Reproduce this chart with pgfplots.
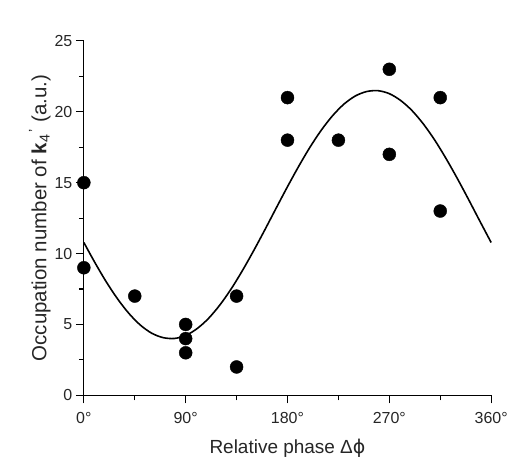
\documentclass[border=0pt]{standalone}
\usepackage{pgfplots}
\pgfplotsset{compat=1.18}
\usepackage{fontspec}
\setmainfont{Liberation Sans}
\newfontfamily\dejavu{DejaVu Sans}

\begin{document}
\begin{tikzpicture}
\path (-84pt,-70pt) rectangle (427pt,396pt);
\begin{axis}[
    at={(0,0)}, anchor=south west,
    width=408pt, height=355pt, scale only axis,
    axis x line*=bottom, axis y line*=left,
    axis line style={line width=1.1pt},
    xmin=0, xmax=360, ymin=0, ymax=25,
    xtick={0,90,180,270,360},
    xticklabels={0°,90°,180°,270°,360°},
    ytick={0,5,10,15,20,25},
    minor tick num=1,
    tick align=outside,
    major tick length=8pt, minor tick length=5pt,
    tick style={line width=1.1pt, black},
    ticklabel style={font=\fontsize{16}{16}\selectfont, text=black!85},
    xticklabel style={yshift=-6pt},
    /pgf/number format/assume math mode=true,
    xlabel={Relative phase Δ{\dejavu ϕ}},
    ylabel={Occupation number of \textbf{k}\textsubscript{4}\textsuperscript{\,'} (a.u.)},
    xlabel style={font=\fontsize{19}{19}\selectfont, text=black!85,
        at={(axis description cs:0.5,-0.15)}, anchor=center},
    ylabel style={font=\fontsize{20.5}{20.5}\selectfont, text=black!85,
        at={(axis description cs:-0.108,0.5)}, anchor=center},
    clip=false,
]
\addplot[black, line width=1.6pt, smooth] coordinates {
    (0,10.78) (10,9.33) (20,7.98) (30,6.78) (40,5.76) (50,4.95)
    (60,4.38) (70,4.07) (80,4.01) (90,4.22) (100,4.70) (110,5.41)
    (120,6.35) (130,7.48) (140,8.78) (150,10.19) (160,11.68) (170,13.21)
    (180,14.72) (190,16.17) (200,17.52) (210,18.72) (220,19.74) (230,20.55)
    (240,21.12) (250,21.43) (260,21.49) (270,21.28) (280,20.80) (290,20.09)
    (300,19.15) (310,18.02) (320,16.72) (330,15.31) (340,13.82) (350,12.29)
    (360,10.78)
};
\addplot[only marks, mark=*, mark size=6.5pt, black] coordinates {
    (0,15) (0,9)
    (45,7)
    (90,5) (90,4) (90,3)
    (135,7) (135,2)
    (180,21) (180,18)
    (225,18)
    (270,23) (270,17)
    (315,21) (315,13)
};
\end{axis}
\end{tikzpicture}
\end{document}
